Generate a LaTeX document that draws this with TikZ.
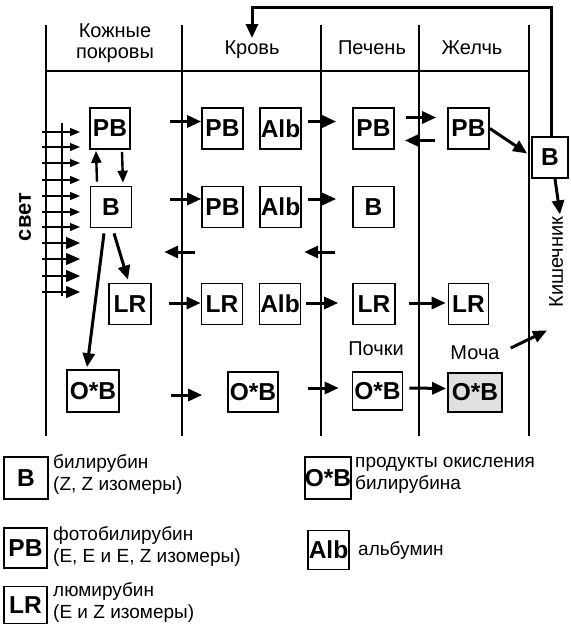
\documentclass[tikz,border=0pt]{standalone}
\usepackage{fontspec}
\setmainfont{Liberation Sans}
\usetikzlibrary{arrows.meta}
\begin{document}
\begin{tikzpicture}[x=1pt,y=-1pt,
  box/.style={draw, line width=1.7pt, inner sep=0pt, minimum width=41pt, minimum height=41pt, font=\bfseries\fontsize{24.5}{24.5}\selectfont},
  lab/.style={font=\fontsize{20}{21}\selectfont, inner sep=0pt},
  leg/.style={font=\fontsize{19}{22}\selectfont, inner sep=0pt, align=left, anchor=west},
  arr/.style={line width=3pt, -{Triangle[length=14pt,width=12pt]}},
  thinarr/.style={line width=2.4pt, -{Triangle[length=12pt,width=10pt]}},
  gridline/.style={line width=1.3pt},
  lightsm/.style={line width=1.2pt, -{Triangle[length=10pt,width=8pt]}},
  lightbg/.style={line width=1.2pt, -{Triangle[length=14pt,width=12pt]}},
]
\useasboundingbox (0,0) rectangle (570,626);

% grid
\foreach \x in {46,182,321,419,529} \draw[gridline] (\x,25) -- (\x,436);
\draw[gridline] (46,71) -- (529,71);

% headers
\node[lab, align=center] (hSkin) at (115,43) {Кожные\\покровы};
\node[lab, anchor=base] (hBlood) at (252,55) {Кровь};
\node[lab, anchor=base] (hLiver) at (372,55) {Печень};
\node[lab, anchor=base] (hBile) at (472,55) {Желчь};

% skin column
\node[box, minimum width=40pt] (sPB) at (110,128.5) {PB};
\node[box] (sB) at (111,207) {B};
\node[box, minimum width=42pt] (sLR) at (130,304) {LR};
\node[box, minimum width=52pt, minimum height=42pt] (sOB) at (93,391) {O*B};

% blood column
\node[box] (bPB) at (222.5,128.5) {PB};
\node[box] (bAlb) at (280.5,128.5) {Alb};
\node[box] (bPB2) at (222.5,207) {PB};
\node[box] (bAlb2) at (280.5,207) {Alb};
\node[box] (bLR) at (222,304) {LR};
\node[box] (bAlb3) at (280,304) {Alb};
\node[box, minimum width=50pt, minimum height=40pt] (bOB) at (253,392) {O*B};

% liver column
\node[box] (lPB) at (373.5,128.5) {PB};
\node[box] (lB) at (373.5,207) {B};
\node[box, minimum width=42pt] (lLR) at (374,304) {LR};
\node[box, minimum width=50pt, minimum height=38pt] (lOB) at (377.5,391) {O*B};

% bile column
\node[box] (gPB) at (468.5,128.5) {PB};
\node[box, minimum width=40pt] (gLR) at (468.5,304) {LR};
\node[box, minimum width=54pt, minimum height=39pt, fill=black!12] (gOB) at (475,392.5) {O*B};

% intestine
\node[box, minimum width=36pt] (rB) at (550,157.5) {B};
\node[lab, rotate=90] (kish) at (556,262) {Кишечник};

% light
\draw[line width=1.2pt] (62,123) -- (62,296);
\foreach \y in {132,147,163,180,196,212,227} \draw[lightsm] (42,\y) -- (80,\y);
\foreach \y in {243,259,276,292} \draw[lightbg] (42,\y) -- (80,\y);
\node[font=\bfseries\fontsize{22}{22}\selectfont, rotate=90, inner sep=0pt] (svet) at (25,217) {свет};

% skin arrows
\draw[thinarr] ([xshift=-14pt,yshift=4pt]sB.north) -- ([xshift=-14pt,yshift=-1pt]sPB.south);
\draw[thinarr] ([xshift=12pt,yshift=-2pt]sPB.south) -- ([xshift=12pt,yshift=3pt]sB.north);
\draw[arr] ([xshift=3pt,yshift=-5pt]sB.south) -- ([xshift=-2pt,yshift=3pt]sLR.north);
\draw[arr] ([xshift=-7pt,yshift=-5pt]sB.south) -- ([xshift=-6pt,yshift=2pt]sOB.north);

% row 1
\draw[arr] ([xshift=-31pt,yshift=7pt]bPB.west) -- ([yshift=7pt]bPB.west);
\draw[arr] ([xshift=6pt,yshift=7pt]bAlb.east) -- ([xshift=-16pt,yshift=7pt]lPB.west);
\draw[arr] ([xshift=11pt,yshift=11pt]lPB.east) -- ([xshift=-11pt,yshift=11pt]gPB.west);
\draw[arr] ([xshift=-12pt,yshift=-12pt]gPB.west) -- ([xshift=10pt,yshift=-12pt]lPB.east);
\draw[arr] (gPB.east) -- ([xshift=-4pt,yshift=4pt]rB.west);

% row 2
\draw[arr] ([xshift=-31pt,yshift=8pt]bPB2.west) -- ([yshift=8pt]bPB2.west);
\draw[arr] ([xshift=6pt,yshift=8pt]bAlb2.east) -- ([xshift=-16pt,yshift=8pt]lB.west);
\draw[arr] ([xshift=-6pt,yshift=-45pt]bPB2.west) -- ([xshift=-37pt,yshift=-45pt]bPB2.west);
\draw[arr] ([xshift=-17pt,yshift=-45pt]lB.west) -- ([xshift=-48pt,yshift=-45pt]lB.west);

% row 3
\draw[arr] ([xshift=17pt,yshift=1pt]sLR.east) -- ([yshift=1pt]bLR.west);
\draw[arr] ([xshift=5pt,yshift=1pt]bAlb3.east) -- ([xshift=-14pt,yshift=1pt]lLR.west);
\draw[arr] ([xshift=13pt,yshift=1pt]lLR.east) -- ([xshift=-2pt,yshift=1pt]gLR.west);

% row 4
\draw[arr] ([xshift=-56pt,yshift=-3pt]bOB.west) -- ([xshift=-25pt,yshift=-3pt]bOB.west);
\draw[arr] ([xshift=29pt,yshift=4pt]bOB.east) -- ([xshift=-13pt,yshift=3pt]lOB.west);
\draw[arr] ([xshift=6pt,yshift=3pt]lOB.east) -- ([xshift=-1pt,yshift=4pt]gOB.west);

% kidneys / urine
\node[lab] (poch) at (376,349) {Почки};
\node[lab] (moch) at (475,353) {Моча};
\draw[arr] ([xshift=11pt,yshift=5pt]moch.east) -- ([xshift=-9pt,yshift=-23pt]kish.west);

% top connector
\coordinate (topL) at (252,8);
\draw[line width=3pt, -{Triangle[length=14pt,width=12pt]}] ([xshift=1pt]rB.north) |- (topL) -- ([yshift=3pt]hBlood.north);
\draw[arr] ([xshift=5pt]rB.south) -- ([xshift=4pt,yshift=2pt]kish.east);

% legend
\node[box, minimum width=44pt, minimum height=42pt] (legB) at (26,478) {B};
\node[leg] (legBt) at (53,474) {билирубин\\(Z, Z изомеры)};
\node[box, minimum width=43pt, minimum height=40pt] (legPB) at (25.5,548) {PB};
\node[leg] (legPBt) at (53,546) {фотобилирубин\\(E, E и E, Z изомеры)};
\node[box, minimum width=43pt, minimum height=37pt] (legLR) at (25.5,605) {LR};
\node[leg] (legLRt) at (53,602) {люмирубин\\(E и Z изомеры)};
\node[box, minimum width=46pt, minimum height=42pt] (legOB) at (328,478) {O*B};
\node[leg] (legOBt) at (355,475.5) {продукты окисления\\билирубина};
\node[box, minimum width=41pt, minimum height=39pt] (legAlb) at (328.5,550) {Alb};
\node[leg] (legAlbt) at (358,550) {альбумин};
\end{tikzpicture}
\end{document}
